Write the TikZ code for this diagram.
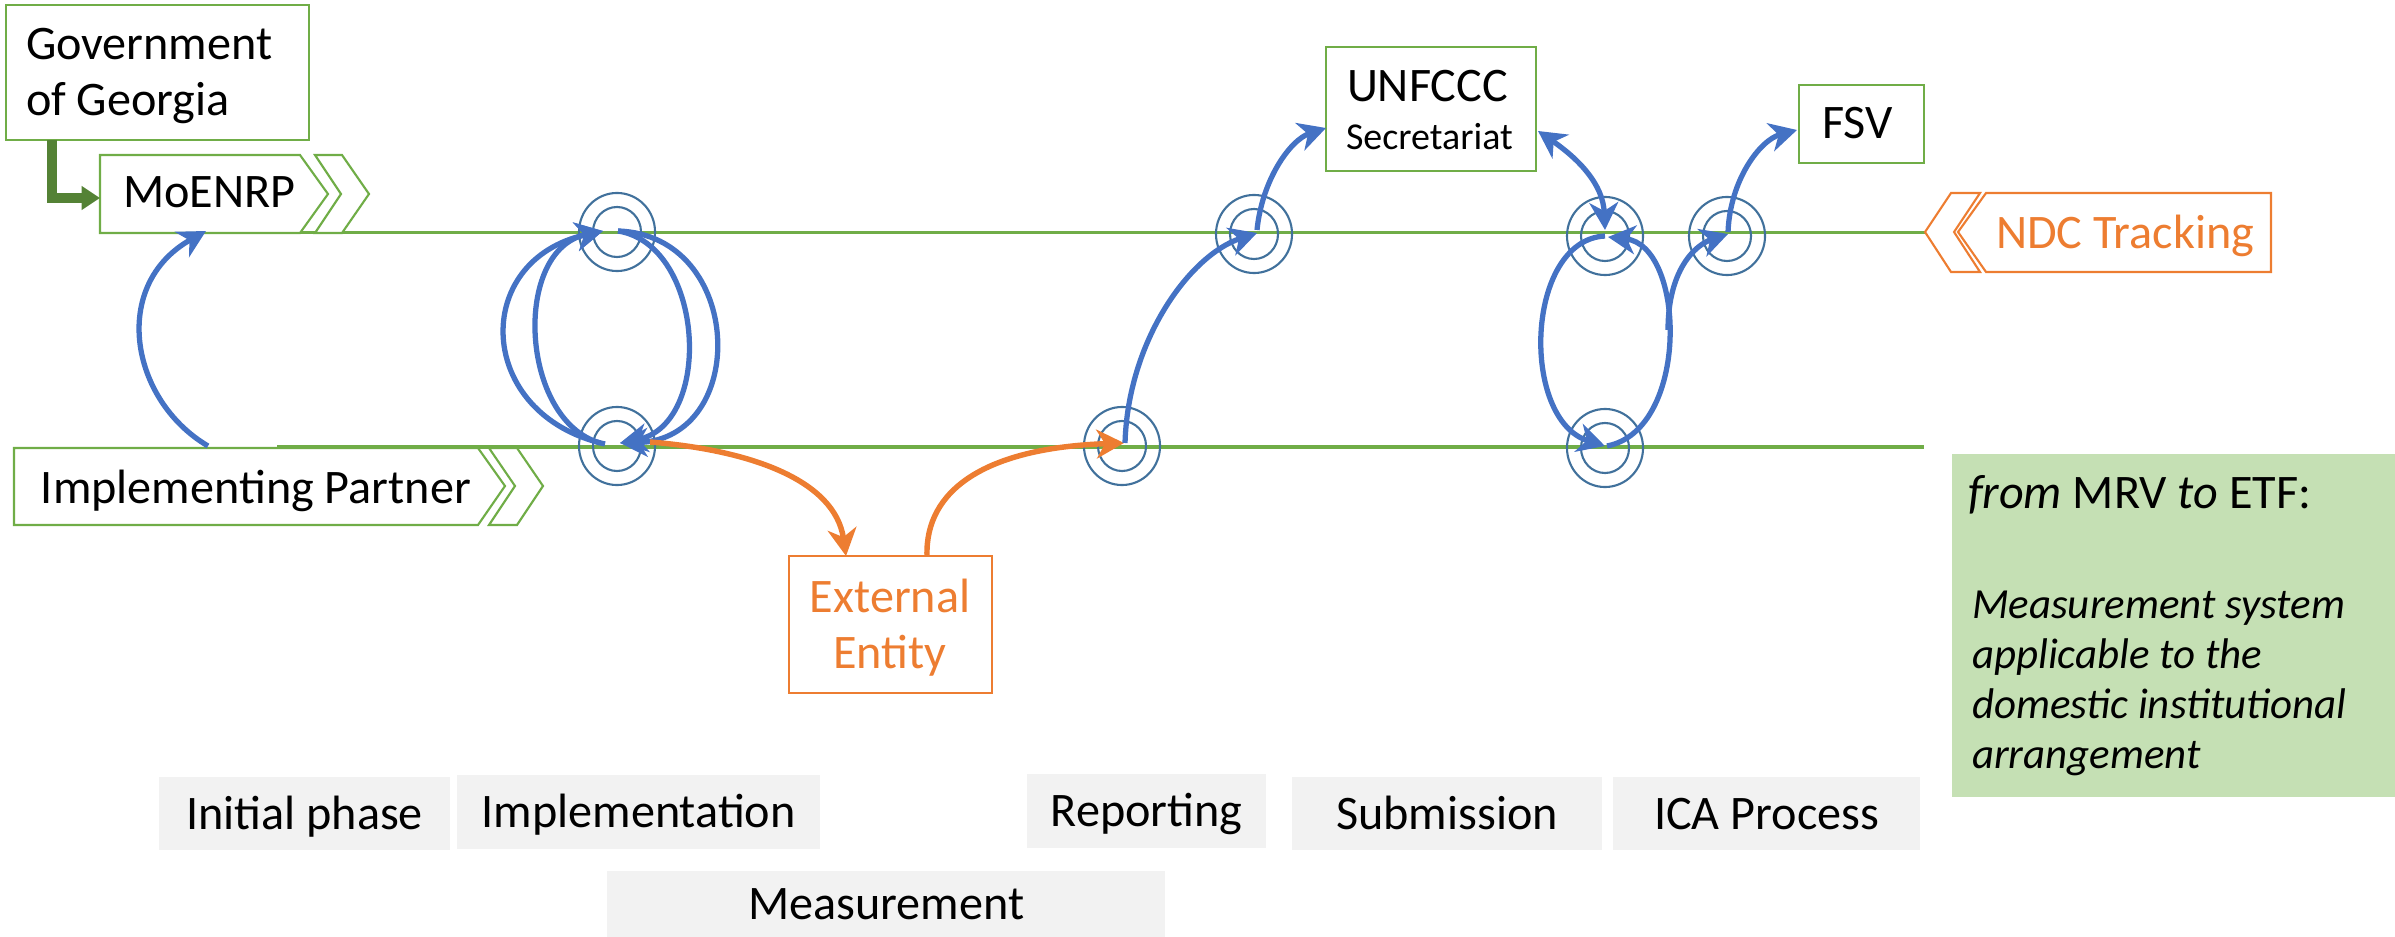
\documentclass[tikz,border=0pt]{standalone}
\usepackage{fontspec}
\setmainfont{Carlito}
\usetikzlibrary{arrows.meta,calc}
\definecolor{lgreen}{HTML}{70AD47}
\definecolor{dgreen}{HTML}{548235}
\definecolor{mblue}{HTML}{4472C4}
\definecolor{cblue}{HTML}{41719C}
\definecolor{orng}{HTML}{ED7D31}
\definecolor{gfill}{HTML}{C5E0B4}
\definecolor{grayA}{HTML}{F2F2F2}
\newcommand\fsMain{\fontsize{13.7}{16}\selectfont}
\newcommand\fsNote{\fontsize{12.2}{14}\selectfont\itshape}
\begin{document}
\begin{tikzpicture}[x=0.01cm,y=-0.01cm,
  every node/.style={inner sep=0pt, outer sep=0pt},
  txt/.style={anchor=base west, font=\fsMain},
  ntxt/.style={anchor=base west, font=\fsNote},
  gbox/.style={draw=lgreen, line width=0.6pt},
  obox/.style={draw=orng, line width=0.6pt},
  gline/.style={draw=lgreen, line width=1.05pt},
  ring/.style={draw=cblue, line width=0.6pt},
  tipS/.tip={Stealth[length=7.8pt,width=8.2pt,inset=2.4pt]},
  barrow/.style={draw=mblue, line width=1.5pt, -tipS},
  darrow/.style={draw=mblue, line width=1.5pt, tipS-tipS},
  oarrow/.style={draw=orng, line width=1.55pt, -tipS},
  elbow/.style={draw=dgreen, line width=2.8pt, -{Triangle[length=5.2pt,width=6.5pt]}},
  phase/.style={fill=grayA, anchor=north west, font=\fsMain, text height=8.8pt, text depth=0pt}
]
\useasboundingbox (0,0) rectangle (2395,937);

% named points
\coordinate (it) at (617,232);
\coordinate (ib) at (617,446);
\coordinate (rb) at (1122,446);
\coordinate (rt) at (1254,234);
\coordinate (st) at (1605,236);
\coordinate (sb) at (1605,448);
\coordinate (ct) at (1727,236);

% time lines
\coordinate (tl0) at (177,232.5);
\coordinate (tl1) at (1925,232.5);
\coordinate (bl0) at (277,447);
\coordinate (bl1) at (1924,447);
\draw[gline] (tl0) -- (tl1);
\draw[gline] (bl0) -- (bl1);

% rings
\foreach \c in {it,ib,rb,rt,st,sb,ct}{
  \draw[ring] (\c) ellipse [x radius=0.38cm, y radius=0.39cm];
  \draw[ring] (\c) ellipse [x radius=0.24cm, y radius=0.25cm];
}

% Government of Georgia
\node[gbox, minimum width=3.03cm, minimum height=1.35cm, anchor=north west] (gov) at (6,5) {};
\node[txt] (govt1) at (26,60) {Government};
\node[txt] (govt2) at (26,116) {of Georgia};

% MoENRP
\draw[gbox, fill=white] (100,155) -- (300,155) -- (328,194) -- (300,233) -- (100,233) -- cycle;
\draw[gbox, fill=white] (315,155) -- (342,155) -- (369,194) -- (342,233) -- (315,233) -- (341,194) -- cycle;
\node[txt] (moet) at (123,208) {MoENRP};
\coordinate (govS) at (52,140);
\coordinate (moeW) at (100,198);
\draw[elbow] (govS) |- (moeW);

% Implementing Partner
\draw[gbox, fill=white] (14,448) -- (478,448) -- (505,486) -- (478,525) -- (14,525) -- cycle;
\draw[gbox, fill=white] (489,448) -- (517,448) -- (543,486) -- (517,525) -- (489,525) -- (515,486) -- cycle;
\node[txt] (ipt) at (41,503) {Implementing Partner};

% UNFCCC
\node[gbox, minimum width=2.10cm, minimum height=1.24cm, anchor=north west] (unf) at (1326,47) {};
\node[txt] (uft1) at (1347,102) {UNFCCC};
\node[txt, font=\fontsize{10.8}{12}\selectfont] (uft2) at (1346,150) {Secretariat};

% FSV
\node[gbox, minimum width=1.25cm, minimum height=0.78cm, anchor=north west] (fsv) at (1799,85) {};
\node[txt] (fsvt) at (1822,139) {FSV};

% NDC Tracking
\draw[obox] (1986,193) -- (2271,193) -- (2271,272) -- (1986,272) -- (1958,232) -- cycle;
\draw[obox] (1951,193) -- (1980,193) -- (1954,232) -- (1980,272) -- (1951,272) -- (1925,232) -- cycle;
\node[txt, text=orng] (ndct) at (1996,249) {NDC Tracking};

% External Entity
\node[obox, minimum width=2.03cm, minimum height=1.37cm, anchor=north west] (ext) at (789,556) {};
\node[anchor=base, font=\fsMain, text=orng] (ext1) at (890,612) {External};
\node[anchor=base, font=\fsMain, text=orng] (ext2) at (890,668) {Entity};

% green note
\node[fill=gfill, minimum width=4.43cm, minimum height=3.43cm, anchor=north west] (note) at (1952,454) {};
\node[txt] (n1) at (1968,508) {\textit{from} MRV \textit{to} ETF:};
\node[ntxt] (n2) at (1972,618) {Measurement system};
\node[ntxt] (n3) at (1972,668) {applicable to the};
\node[ntxt] (n4) at (1972,718) {domestic institutional};
\node[ntxt] (n5) at (1972,768) {arrangement};

% phases
\node[phase, minimum width=2.91cm, minimum height=0.73cm] (p1) at (159,777) {Initial phase};
\node[phase, minimum width=3.63cm, minimum height=0.74cm] (p2) at (457,775) {Implementation};
\node[phase, minimum width=2.39cm, minimum height=0.74cm] (p3) at (1027,774) {Reporting};
\node[phase, minimum width=3.10cm, minimum height=0.73cm] (p4) at (1292,777) {Submission};
\node[phase, minimum width=3.07cm, minimum height=0.73cm] (p5) at (1613,777) {ICA Process};
\node[phase, minimum width=5.58cm, minimum height=0.66cm] (p6) at (607,871) {Measurement};

% arrow end points
\coordinate (a0) at (208,446);
\coordinate (a1) at (206,231);
\coordinate (iL0) at (605,444);
\coordinate (iL1) at (600,443);
\coordinate (iTip) at (603,231);
\coordinate (iR0) at (618,231);
\coordinate (iBtip) at (620,443);
\coordinate (o0) at (650,442);
\coordinate (o1) at (846,556);
\coordinate (o2) at (927,556);
\coordinate (o3) at (1124,443);
\coordinate (r0) at (1125,443);
\coordinate (r1) at (1257,233);
\coordinate (r2) at (1257,230);
\coordinate (uW) at (1326,128);
\coordinate (uE) at (1538,131);
\coordinate (sTtip) at (1605,230);
\coordinate (sT0) at (1605,236);
\coordinate (sB1) at (1605,446);
\coordinate (sB0) at (1607,446);
\coordinate (sT1) at (1608,237);
\coordinate (br0) at (1668,330);
\coordinate (cTtip) at (1728,234);
\coordinate (c0) at (1728,232);
\coordinate (fW) at (1797,130);

% initial phase
\draw[barrow] (a0) .. controls (130,400) and (110,285) .. (a1);
% implementation loops
\draw[barrow] (iL0) .. controls (475,415) and (470,260) .. (iTip);
\draw[barrow] (iL1) .. controls (520,420) and (512,250) .. (iTip);
\draw[barrow] (iR0) .. controls (705,245) and (714,425) .. (iBtip);
\draw[barrow] (iR0) .. controls (745,235) and (750,440) .. (iBtip);
% external entity
\draw[oarrow] (o0) .. controls (750,450) and (835,480) .. (o1);
\draw[oarrow] (o2) .. controls (925,490) and (985,448) .. (o3);
% reporting
\draw[barrow] (r0) .. controls (1128,340) and (1190,255) .. (r1);
\draw[barrow] (r2) .. controls (1262,180) and (1290,140) .. (uW);
% submission
\draw[darrow] (uE) .. controls (1580,160) and (1603,185) .. (sTtip);
\draw[barrow] (sT0) .. controls (1525,240) and (1520,420) .. (sB1);
\draw[barrow] (sB0) .. controls (1690,430) and (1686,245) .. (sT1);
% ICA
\draw[barrow] (br0) .. controls (1668,270) and (1695,245) .. (cTtip);
\draw[barrow] (c0) .. controls (1730,180) and (1760,140) .. (fW);
\end{tikzpicture}
\end{document}
